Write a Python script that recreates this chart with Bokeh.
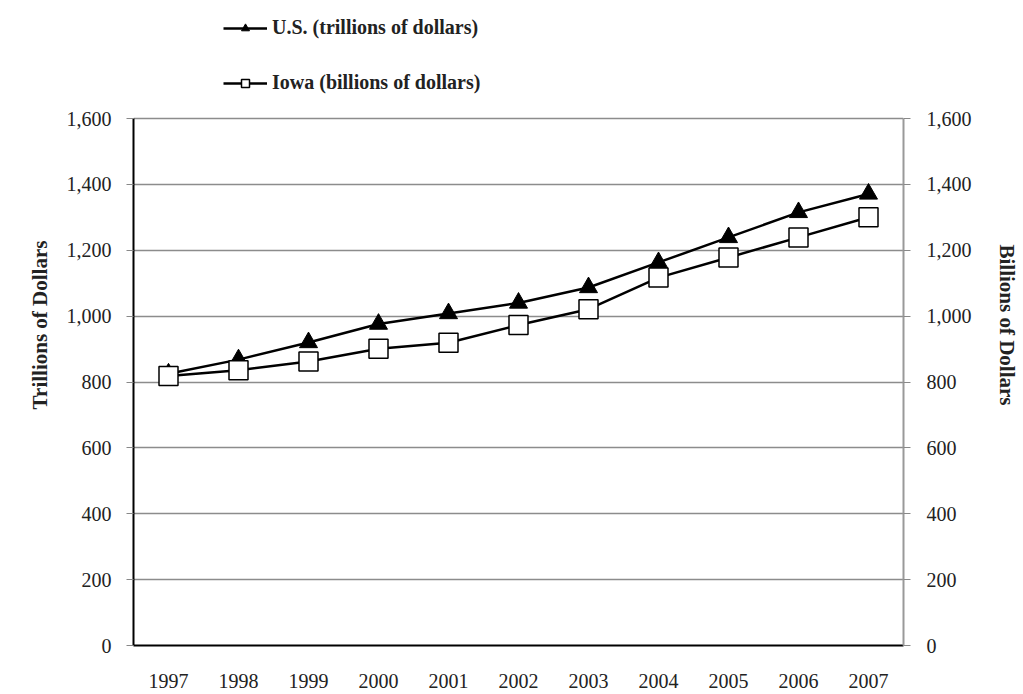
from bokeh.plotting import figure
from bokeh.models import (Legend, LegendItem, LinearAxis, Range1d, FactorRange,
                          NumeralTickFormatter, FixedTicker, ColumnDataSource)
from bokeh.embed import file_html
from bokeh.resources import INLINE

years = ["1997", "1998", "1999", "2000", "2001", "2002", "2003", "2004", "2005", "2006", "2007"]
us_values = [825, 868, 920, 976, 1008, 1040, 1087, 1163, 1239, 1315, 1371]
iowa_values = [818, 836, 862, 901, 919, 973, 1021, 1117, 1178, 1239, 1300]
y_ticks = [0, 200, 400, 600, 800, 1000, 1200, 1400, 1600]

FONT = "Liberation Serif"

# layout: the frame is extended upward so the legend (above the 0-1600 area) is not clipped
FRAME_TOP = 4
FRAME_BOTTOM = 645
AXIS_TOP_PX = 118
Y_MAX = 1600 * (FRAME_BOTTOM - FRAME_TOP) / (FRAME_BOTTOM - AXIS_TOP_PX)

src = ColumnDataSource(dict(year=years, us=us_values, iowa=iowa_values))

p = figure(width=1023, height=694, x_range=FactorRange(*years, range_padding=0),
           y_range=Range1d(0, Y_MAX), output_backend="svg", toolbar_location=None,
           min_border_left=133, min_border_right=120, min_border_top=FRAME_TOP,
           min_border_bottom=694 - FRAME_BOTTOM)
p.outline_line_color = None
p.background_fill_color = "white"

r_us_line = p.line("year", "us", source=src, line_color="black", line_width=2.5)
r_ia_line = p.line("year", "iowa", source=src, line_color="black", line_width=2.5)
r_us_mark = p.scatter("year", "us", source=src, marker="triangle", size=18,
                      fill_color="black", line_color="black", line_width=1)
r_ia_mark = p.scatter("year", "iowa", source=src, marker="square", size=19,
                      fill_color="white", line_color="black", line_width=1.5)

# x axis
xa = p.xaxis[0]
xa.axis_line_color = "black"
xa.axis_line_width = 2
xa.major_tick_line_color = None
xa.minor_tick_line_color = None
xa.major_label_text_font = FONT
xa.major_label_text_font_size = "20px"
xa.major_label_text_color = "#222222"
xa.major_label_standoff = 22

# left y axis
ya = p.yaxis[0]
ya.bounds = (0, 1600)
ya.ticker = FixedTicker(ticks=y_ticks)
ya.formatter = NumeralTickFormatter(format="0,0")
ya.axis_line_color = "black"
ya.axis_line_width = 2
ya.major_tick_in = 0
ya.major_tick_out = 7
ya.major_tick_line_color = "#888888"
ya.minor_tick_line_color = None
ya.major_label_text_font = FONT
ya.major_label_text_font_size = "20px"
ya.major_label_text_color = "#222222"
ya.major_label_standoff = 15
ya.axis_label = "Trillions of Dollars"
ya.axis_label_text_font = FONT
ya.axis_label_text_font_style = "bold"
ya.axis_label_text_font_size = "21px"
ya.axis_label_text_color = "#222222"
ya.axis_label_standoff = 12

# right y axis
ra = LinearAxis(ticker=FixedTicker(ticks=y_ticks), formatter=NumeralTickFormatter(format="0,0"),
                bounds=(0, 1600))
ra.axis_line_color = "#999999"
ra.axis_line_width = 2
ra.major_tick_in = 0
ra.major_tick_out = 7
ra.major_tick_line_color = "#888888"
ra.minor_tick_line_color = None
ra.major_label_text_font = FONT
ra.major_label_text_font_size = "20px"
ra.major_label_text_color = "#222222"
ra.major_label_standoff = 16
ra.axis_label = "Billions of Dollars"
ra.axis_label_text_font = FONT
ra.axis_label_text_font_style = "bold"
ra.axis_label_text_font_size = "21px"
ra.axis_label_text_color = "#222222"
ra.axis_label_standoff = 20
p.add_layout(ra, "right")

# grid
p.xgrid.grid_line_color = None
p.ygrid.ticker = FixedTicker(ticks=y_ticks)
p.ygrid.grid_line_color = "#8c8c8c"
p.ygrid.grid_line_width = 1.5

legend = Legend(items=[
    LegendItem(label="U.S. (trillions of dollars)", renderers=[r_us_line, r_us_mark]),
    LegendItem(label="Iowa (billions of dollars)", renderers=[r_ia_line, r_ia_mark]),
], location=(90, 551), orientation="vertical", spacing=32, glyph_width=44,
    label_text_font=FONT, label_text_font_style="bold", label_text_font_size="20px",
    label_text_color="#222222", border_line_color=None, background_fill_alpha=0,
    padding=4, margin=0)
p.add_layout(legend, "center")

open("out.html", "w").write(file_html(p, INLINE))
